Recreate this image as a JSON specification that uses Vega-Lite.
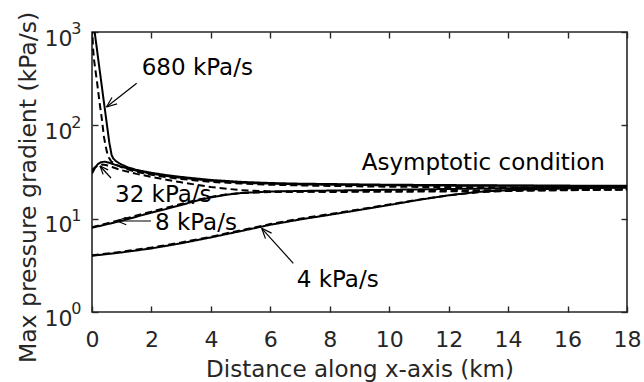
{
  "$schema": "https://vega.github.io/schema/vega-lite/v6.json",
  "width": 535,
  "height": 280,
  "autosize": {"type": "none"},
  "padding": {"left": 92, "top": 32, "right": 17, "bottom": 70},
  "background": "white",
  "config": {
    "font": "DejaVu Sans",
    "view": {"stroke": "#262626", "strokeWidth": 1.6},
    "axis": {
      "grid": false, "domain": false, "ticks": true,
      "tickColor": "#262626", "tickWidth": 1.4, "tickSize": -6,
      "labelColor": "#262626", "titleColor": "#262626",
      "labelFontSize": 22, "titleFontSize": 23, "titleFontWeight": "normal",
      "labelFlush": false, "labelOverlap": false
    }
  },
  "datasets": {
    "curves": [
      {"s":"680s","m":"solid","x":0.07,"y":1300},{"s":"680s","m":"solid","x":0.09,"y":1000},{"s":"680s","m":"solid","x":0.2,"y":540},{"s":"680s","m":"solid","x":0.3,"y":310},{"s":"680s","m":"solid","x":0.4,"y":178},{"s":"680s","m":"solid","x":0.5,"y":103},{"s":"680s","m":"solid","x":0.58,"y":66},{"s":"680s","m":"solid","x":0.66,"y":48},{"s":"680s","m":"solid","x":0.72,"y":44},{"s":"680s","m":"solid","x":0.8,"y":41.5},{"s":"680s","m":"solid","x":0.9,"y":39.5},{"s":"680s","m":"solid","x":1.0,"y":38},{"s":"680s","m":"solid","x":1.2,"y":35.5},{"s":"680s","m":"solid","x":1.5,"y":33.3},{"s":"680s","m":"solid","x":2,"y":31},{"s":"680s","m":"solid","x":2.5,"y":29.3},{"s":"680s","m":"solid","x":3,"y":28},{"s":"680s","m":"solid","x":4,"y":26},{"s":"680s","m":"solid","x":5,"y":24.8},{"s":"680s","m":"solid","x":6,"y":24.1},{"s":"680s","m":"solid","x":7,"y":23.7},{"s":"680s","m":"solid","x":8,"y":23.5},{"s":"680s","m":"solid","x":10,"y":23.1},{"s":"680s","m":"solid","x":12,"y":22.9},{"s":"680s","m":"solid","x":14,"y":22.7},{"s":"680s","m":"solid","x":16,"y":22.6},{"s":"680s","m":"solid","x":18,"y":22.5},

      {"s":"680d","m":"dashed","x":0,"y":1500},{"s":"680d","m":"dashed","x":0.03,"y":700},{"s":"680d","m":"dashed","x":0.07,"y":500},{"s":"680d","m":"dashed","x":0.17,"y":290},{"s":"680d","m":"dashed","x":0.25,"y":180},{"s":"680d","m":"dashed","x":0.33,"y":118},{"s":"680d","m":"dashed","x":0.4,"y":76},{"s":"680d","m":"dashed","x":0.45,"y":62},{"s":"680d","m":"dashed","x":0.5,"y":52},{"s":"680d","m":"dashed","x":0.57,"y":45},{"s":"680d","m":"dashed","x":0.65,"y":41},{"s":"680d","m":"dashed","x":0.8,"y":38},{"s":"680d","m":"dashed","x":1.0,"y":35.5},{"s":"680d","m":"dashed","x":1.3,"y":33},{"s":"680d","m":"dashed","x":1.6,"y":31.3},{"s":"680d","m":"dashed","x":2,"y":29.5},{"s":"680d","m":"dashed","x":2.5,"y":27.8},{"s":"680d","m":"dashed","x":3,"y":26.6},{"s":"680d","m":"dashed","x":4,"y":24.8},{"s":"680d","m":"dashed","x":5,"y":23.8},{"s":"680d","m":"dashed","x":6,"y":23.1},{"s":"680d","m":"dashed","x":7,"y":22.7},{"s":"680d","m":"dashed","x":8,"y":22.4},{"s":"680d","m":"dashed","x":10,"y":22},{"s":"680d","m":"dashed","x":12,"y":21.8},{"s":"680d","m":"dashed","x":14,"y":21.6},{"s":"680d","m":"dashed","x":16,"y":21.5},{"s":"680d","m":"dashed","x":18,"y":21.4},

      {"s":"32s","m":"solid","x":0,"y":30.5},{"s":"32s","m":"solid","x":0.1,"y":35},{"s":"32s","m":"solid","x":0.2,"y":38.5},{"s":"32s","m":"solid","x":0.3,"y":40.3},{"s":"32s","m":"solid","x":0.43,"y":40.8},{"s":"32s","m":"solid","x":0.55,"y":40},{"s":"32s","m":"solid","x":0.7,"y":38.5},{"s":"32s","m":"solid","x":0.85,"y":37.2},{"s":"32s","m":"solid","x":1.0,"y":36},{"s":"32s","m":"solid","x":1.2,"y":34.5},{"s":"32s","m":"solid","x":1.5,"y":32.6},{"s":"32s","m":"solid","x":2,"y":30.3},{"s":"32s","m":"solid","x":2.5,"y":28.7},{"s":"32s","m":"solid","x":3,"y":27.4},{"s":"32s","m":"solid","x":4,"y":25.5},{"s":"32s","m":"solid","x":5,"y":24.3},{"s":"32s","m":"solid","x":6,"y":23.7},{"s":"32s","m":"solid","x":7,"y":23.3},{"s":"32s","m":"solid","x":8,"y":23.1},{"s":"32s","m":"solid","x":10,"y":22.8},{"s":"32s","m":"solid","x":12,"y":22.6},{"s":"32s","m":"solid","x":14,"y":22.5},{"s":"32s","m":"solid","x":16,"y":22.4},{"s":"32s","m":"solid","x":18,"y":22.3},

      {"s":"32d","m":"dashed","x":0,"y":33},{"s":"32d","m":"dashed","x":0.1,"y":35.5},{"s":"32d","m":"dashed","x":0.2,"y":37.2},{"s":"32d","m":"dashed","x":0.35,"y":38},{"s":"32d","m":"dashed","x":0.5,"y":37.3},{"s":"32d","m":"dashed","x":0.7,"y":35.5},{"s":"32d","m":"dashed","x":1,"y":33},{"s":"32d","m":"dashed","x":1.5,"y":30.2},{"s":"32d","m":"dashed","x":2,"y":28},{"s":"32d","m":"dashed","x":2.5,"y":26.1},{"s":"32d","m":"dashed","x":3,"y":24.5},{"s":"32d","m":"dashed","x":4,"y":21.8},{"s":"32d","m":"dashed","x":5,"y":20.2},{"s":"32d","m":"dashed","x":6,"y":19.6},{"s":"32d","m":"dashed","x":7,"y":19.4},{"s":"32d","m":"dashed","x":8,"y":19.35},{"s":"32d","m":"dashed","x":10,"y":19.4},{"s":"32d","m":"dashed","x":12,"y":19.6},{"s":"32d","m":"dashed","x":14,"y":19.9},{"s":"32d","m":"dashed","x":16,"y":20.2},{"s":"32d","m":"dashed","x":18,"y":20.5},

      {"s":"8s","m":"solid","x":0,"y":8},{"s":"8s","m":"solid","x":0.5,"y":8.7},{"s":"8s","m":"solid","x":1,"y":9.5},{"s":"8s","m":"solid","x":1.5,"y":10.5},{"s":"8s","m":"solid","x":2,"y":11.6},{"s":"8s","m":"solid","x":2.5,"y":12.7},{"s":"8s","m":"solid","x":3,"y":14},{"s":"8s","m":"solid","x":3.5,"y":15.5},{"s":"8s","m":"solid","x":4,"y":16.9},{"s":"8s","m":"solid","x":4.5,"y":18},{"s":"8s","m":"solid","x":5,"y":18.8},{"s":"8s","m":"solid","x":5.5,"y":19.2},{"s":"8s","m":"solid","x":6,"y":19.5},{"s":"8s","m":"solid","x":7,"y":19.8},{"s":"8s","m":"solid","x":8,"y":20},{"s":"8s","m":"solid","x":10,"y":20.4},{"s":"8s","m":"solid","x":12,"y":20.8},{"s":"8s","m":"solid","x":14,"y":21.2},{"s":"8s","m":"solid","x":16,"y":21.6},{"s":"8s","m":"solid","x":18,"y":21.9},

      {"s":"8d","m":"dashed","x":0,"y":8.1},{"s":"8d","m":"dashed","x":0.5,"y":8.9},{"s":"8d","m":"dashed","x":1,"y":9.8},{"s":"8d","m":"dashed","x":1.5,"y":10.8},{"s":"8d","m":"dashed","x":2,"y":11.9},{"s":"8d","m":"dashed","x":2.5,"y":13.1},{"s":"8d","m":"dashed","x":3,"y":14.4},{"s":"8d","m":"dashed","x":3.5,"y":15.8},{"s":"8d","m":"dashed","x":4,"y":17.1},{"s":"8d","m":"dashed","x":4.5,"y":18.1},{"s":"8d","m":"dashed","x":5,"y":18.8},{"s":"8d","m":"dashed","x":6,"y":19.3},{"s":"8d","m":"dashed","x":7,"y":19.5},{"s":"8d","m":"dashed","x":8,"y":19.6},{"s":"8d","m":"dashed","x":10,"y":19.8},{"s":"8d","m":"dashed","x":12,"y":20},{"s":"8d","m":"dashed","x":14,"y":20.2},{"s":"8d","m":"dashed","x":16,"y":20.4},{"s":"8d","m":"dashed","x":18,"y":20.6},

      {"s":"4s","m":"solid","x":0,"y":4},{"s":"4s","m":"solid","x":1,"y":4.35},{"s":"4s","m":"solid","x":2,"y":4.8},{"s":"4s","m":"solid","x":3,"y":5.45},{"s":"4s","m":"solid","x":4,"y":6.3},{"s":"4s","m":"solid","x":5,"y":7.35},{"s":"4s","m":"solid","x":6,"y":8.6},{"s":"4s","m":"solid","x":7,"y":9.8},{"s":"4s","m":"solid","x":8,"y":11},{"s":"4s","m":"solid","x":9,"y":12.4},{"s":"4s","m":"solid","x":10,"y":14},{"s":"4s","m":"solid","x":11,"y":15.9},{"s":"4s","m":"solid","x":12,"y":17.8},{"s":"4s","m":"solid","x":13,"y":19.4},{"s":"4s","m":"solid","x":14,"y":20.2},{"s":"4s","m":"solid","x":15,"y":20.7},{"s":"4s","m":"solid","x":16,"y":21.1},{"s":"4s","m":"solid","x":17,"y":21.4},{"s":"4s","m":"solid","x":18,"y":21.7},

      {"s":"4d","m":"dashed","x":0,"y":4.05},{"s":"4d","m":"dashed","x":1,"y":4.42},{"s":"4d","m":"dashed","x":2,"y":4.9},{"s":"4d","m":"dashed","x":3,"y":5.55},{"s":"4d","m":"dashed","x":4,"y":6.4},{"s":"4d","m":"dashed","x":5,"y":7.5},{"s":"4d","m":"dashed","x":6,"y":8.75},{"s":"4d","m":"dashed","x":7,"y":10},{"s":"4d","m":"dashed","x":8,"y":11.2},{"s":"4d","m":"dashed","x":9,"y":12.6},{"s":"4d","m":"dashed","x":10,"y":14.2},{"s":"4d","m":"dashed","x":11,"y":16},{"s":"4d","m":"dashed","x":12,"y":17.8},{"s":"4d","m":"dashed","x":13,"y":19.2},{"s":"4d","m":"dashed","x":14,"y":19.8},{"s":"4d","m":"dashed","x":15,"y":20.1},{"s":"4d","m":"dashed","x":16,"y":20.3},{"s":"4d","m":"dashed","x":17,"y":20.5},{"s":"4d","m":"dashed","x":18,"y":20.6}
    ],
    "arrows": [
      {"x":1.504,"y":282.1,"x2":0.488,"y2":157.2},
      {"x":0.488,"y":157.2,"x2":0.843,"y2":169.5},
      {"x":0.488,"y":157.2,"x2":0.672,"y2":198.9},
      {"x":0.639,"y":27.27,"x2":0.269,"y2":36.68},
      {"x":0.269,"y":36.68,"x2":0.375,"y2":29.81},
      {"x":0.269,"y":36.68,"x2":0.542,"y2":33.31},
      {"x":1.985,"y":9.44,"x2":0.841,"y2":9.44},
      {"x":0.841,"y":9.44,"x2":1.153,"y2":8.605},
      {"x":0.841,"y":9.44,"x2":1.153,"y2":10.36},
      {"x":6.773,"y":3.325,"x2":5.71,"y2":7.886},
      {"x":5.71,"y":7.886,"x2":5.836,"y2":6.111},
      {"x":5.71,"y":7.886,"x2":6.042,"y2":7.001}
    ],
    "labels": [
      {"t":"680 kPa/s","x":1.672,"y":411.5},
      {"t":"Asymptotic condition","x":9.074,"y":39.2},
      {"t":"32 kPa/s","x":0.774,"y":17.93},
      {"t":"8 kPa/s","x":2.12,"y":8.92},
      {"t":"4 kPa/s","x":6.887,"y":2.203}
    ],
    "exps": [
      {"v":1,"e":"0"},{"v":10,"e":"1"},{"v":100,"e":"2"},{"v":1000,"e":"3"}
    ]
  },
  "layer": [
    {
      "data": {"name": "curves"},
      "mark": {"type": "line", "clip": true, "strokeWidth": 2, "color": "black"},
      "encoding": {
        "x": {"field": "x", "type": "quantitative",
              "scale": {"domain": [0, 18], "nice": false, "zero": false},
              "axis": {"orient": "bottom", "values": [0,2,4,6,8,10,12,14,16,18],
                       "title": "Distance along x-axis (km)", "labelPadding": 23, "titlePadding": 8}},
        "y": {"field": "y", "type": "quantitative",
              "scale": {"type": "log", "domain": [1, 1000], "nice": false},
              "axis": {"orient": "left", "values": [1,10,100,1000], "labelExpr": "'10'",
                       "labelPadding": 26, "labelOffset": 6,
                       "title": "Max pressure gradient (kPa/s)", "titlePadding": 4, "titleFontSize": 23.5, "titleY": 155, "titleColor": "#262626"}},
        "detail": {"field": "s", "type": "nominal"},
        "strokeDash": {"field": "m", "type": "nominal",
                       "scale": {"domain": ["solid", "dashed"], "range": [[1, 0], [7, 4]]},
                       "legend": null}
      }
    },
    {
      "data": {"name": "arrows"},
      "mark": {"type": "rule", "color": "black", "strokeWidth": 1.2},
      "encoding": {
        "x": {"field": "x", "type": "quantitative",
              "scale": {"domain": [0, 18], "nice": false, "zero": false},
              "axis": {"orient": "top", "values": [0,2,4,6,8,10,12,14,16,18], "labels": false, "title": null}},
        "y": {"field": "y", "type": "quantitative",
              "scale": {"type": "log", "domain": [1, 1000], "nice": false},
              "axis": {"orient": "right", "values": [1,10,100,1000], "labels": false, "title": null}},
        "x2": {"field": "x2"},
        "y2": {"field": "y2"}
      }
    },
    {
      "data": {"name": "labels"},
      "mark": {"type": "text", "align": "left", "baseline": "middle", "fontSize": 23, "color": "black"},
      "encoding": {
        "x": {"field": "x", "type": "quantitative", "scale": {"domain": [0, 18], "nice": false, "zero": false}, "axis": null},
        "y": {"field": "y", "type": "quantitative", "scale": {"type": "log", "domain": [1, 1000], "nice": false}, "axis": null},
        "text": {"field": "t"}
      }
    },
    {
      "data": {"name": "exps"},
      "mark": {"type": "text", "align": "right", "baseline": "alphabetic", "fontSize": 16, "color": "#262626", "dx": -10.5, "dy": 2.3},
      "encoding": {
        "x": {"datum": 0, "type": "quantitative", "scale": {"domain": [0, 18], "nice": false, "zero": false}, "axis": null},
        "y": {"field": "v", "type": "quantitative", "scale": {"type": "log", "domain": [1, 1000], "nice": false}, "axis": null},
        "text": {"field": "e"}
      }
    }
  ],
  "resolve": {"axis": {"x": "independent", "y": "independent"}}
}
